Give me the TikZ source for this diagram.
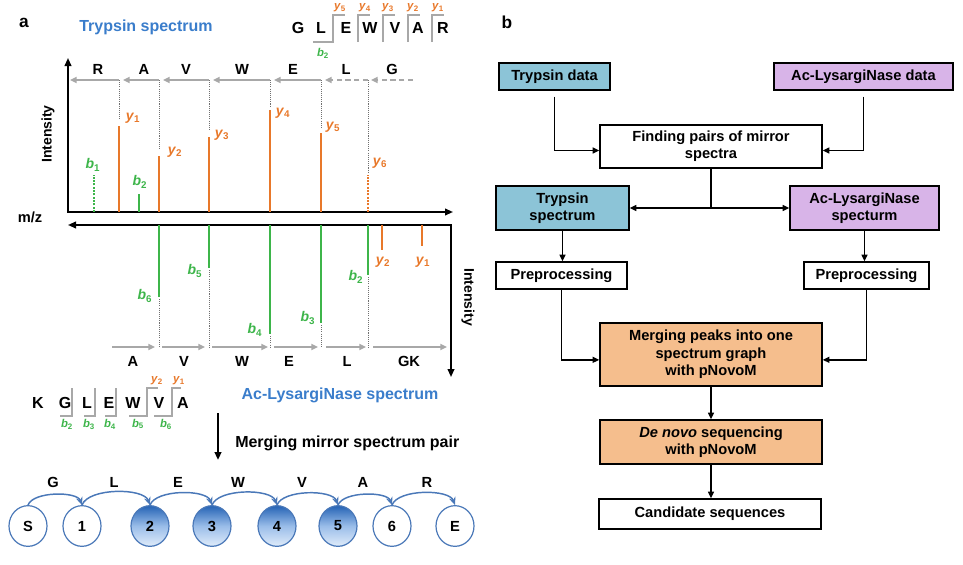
\documentclass[tikz,border=0pt]{standalone}
\usepackage{fontspec}
\setmainfont{Liberation Sans}
\usetikzlibrary{arrows.meta,shapes.geometric}
\definecolor{ora}{HTML}{E8782A}
\definecolor{grn}{HTML}{3DB54A}
\definecolor{gry}{HTML}{A8A8A8}
\definecolor{guidec}{HTML}{707070}
\definecolor{blu}{HTML}{3A7DCB}
\definecolor{tbox}{HTML}{8CC4D7}
\definecolor{pbox}{HTML}{D8B4E8}
\definecolor{obox}{HTML}{F5BE8D}
\definecolor{nblue}{HTML}{4A78B8}
\definecolor{ndark}{HTML}{2563B5}
\definecolor{nmid}{HTML}{9ABDE9}
\definecolor{nlight}{HTML}{E0ECFA}
\newcommand{\ionlab}[2]{\textit{#1}\textsubscript{#2}}
\tikzset{
  axisln/.style={line width=1.3pt, black, >={Triangle[length=6pt,width=5pt]}},
  garrow/.style={gry, line width=1.2pt, -{Triangle[length=5pt,width=4.5pt]}},
  gdash/.style={garrow, dash pattern=on 4pt off 2.5pt},
  guide/.style={guidec, line width=0.6pt, dash pattern=on 0.8pt off 0.8pt},
  opeak/.style={ora, line width=1.5pt},
  gpeak/.style={grn, line width=1.5pt},
  dpeak/.style={dash pattern=on 1.5pt off 1pt},
  oion/.style={text=ora, font=\fontsize{10.5}{11}\selectfont\bfseries},
  gion/.style={text=grn, font=\fontsize{10.5}{11}\selectfont\bfseries},
  soion/.style={text=ora, font=\fontsize{8.5}{9}\selectfont\bfseries},
  sgion/.style={text=grn, font=\fontsize{8.5}{9}\selectfont\bfseries},
  aa/.style={font=\fontsize{11}{12}\selectfont\bfseries},
  seqlet/.style={font=\fontsize{12}{12}\selectfont\bfseries},
  brk/.style={gry, line width=1.3pt},
  gnode/.style={ellipse, draw=nblue, line width=0.9pt, minimum width=28.5pt, minimum height=30.5pt, font=\fontsize{11}{11}\selectfont\bfseries, fill=white},
  gfill/.style={top color=ndark, bottom color=nlight, middle color=nmid},
  garc/.style={nblue, line width=1.1pt, -{Stealth[length=6pt,width=5pt]}, looseness=0.7},
  fbox/.style={draw=black, line width=1.1pt, align=center, font=\fontsize{11}{13}\selectfont\bfseries, inner sep=0pt},
  farrow/.style={line width=1pt, -{Triangle[length=5pt,width=4.5pt]}},
  fline/.style={line width=1pt},
  panel/.style={font=\fontsize{13}{13}\selectfont\bfseries},
  title/.style={text=blu, font=\fontsize{12}{12}\selectfont\bfseries},
}
\begin{document}
\begin{tikzpicture}[x=0.75pt,y=-0.75pt, every node/.style={inner sep=0pt}, font=\bfseries]
\useasboundingbox (0,0) rectangle (963,564);

% ---------- panel a ----------
\node[panel] (pa) at (24,23) {a};
\node[title] (ttry) at (146,27) {Trypsin spectrum};

% top sequence
\foreach \l/\x [count=\i] in {G/298,L/321,E/346,W/370,V/395,A/418,R/443}
  \node[seqlet] (st\i) at (\x,28) {\l};
\draw[brk] (313,42) -- (333,42) -- (333,15) -- (345,15);
\foreach \x in {358,383,408,432} \draw[brk] (\x,42) -- (\x,15) -- (\x+12,15);
\foreach \n/\x [count=\i] in {5/340,4/365,3/388,2/413,1/438}
  \node[soion] (sty\i) at (\x,8) {\ionlab{y}{\n}};
\node[sgion] (stb2) at (323,53) {\ionlab{b}{2}};

% axes
\draw[axisln,<->] (68,58) -- (68,212) -- (453,212);
\draw[axisln,<->] (68,225) -- (451,225) -- (451,377);
\node[font=\fontsize{10.5}{11}\selectfont\bfseries, rotate=90] (int1) at (48,134) {Intensity};
\node[font=\fontsize{10.5}{11}\selectfont\bfseries, rotate=-90] (int2) at (468,297) {Intensity};
\node[font=\fontsize{11}{11}\selectfont\bfseries] (mz) at (30,217) {m/z};

% top amino-acid arrows
\foreach \a/\b in {119/70,159/123,209/163,270/213,321/274} \draw[garrow] (\a,80) -- (\b,80);
\foreach \a/\b in {368/325,413/371} \draw[gdash] (\a,80) -- (\b,80);
\foreach \l/\x [count=\i] in {R/98,A/144,V/186,W/242,E/293,L/346,G/392}
  \node[aa] (ta\i) at (\x,69) {\l};

% top guides and peaks
\foreach \x/\t in {119/119,159/150,209/130,270/107,321/127,368/172}
  \draw[guide] (\x,80) -- (\x,\t);
\foreach \x/\t in {119/126,159/156,209/137,270/110,321/133}
  \draw[opeak] (\x,212) -- (\x,\t);
\draw[opeak,dpeak] (368,212) -- (368,175);
\draw[gpeak] (139,212) -- (139,194);
\draw[gpeak,dpeak] (94,212) -- (94,175);
\node[gion] (tb1) at (93,165) {\ionlab{b}{1}};
\node[gion] (tb2) at (140,182) {\ionlab{b}{2}};
\foreach \n/\x/\y in {1/133/118,2/175/152,3/222/135,4/283/113,5/333/127,6/380/163}
  \node[oion] (ty\n) at (\x,\y) {\ionlab{y}{\n}};

% bottom guides and peaks
\foreach \x/\t in {159/297,209/268,270/334,321/323,368/275}
  {\draw[gpeak] (\x,225) -- (\x,\t);
   \draw[guide] (\x,\t+2) -- (\x,348);}
\draw[opeak] (382,225) -- (382,250);
\draw[opeak] (422,225) -- (422,246);
\foreach \n/\x/\y in {6/145/296,5/195/271,4/255/330,3/308/318,2/356/277}
  \node[gion] (bb\n) at (\x,\y) {\ionlab{b}{\n}};
\node[oion] (by2) at (383,262) {\ionlab{y}{2}};
\node[oion] (by1) at (423,262) {\ionlab{y}{1}};

% bottom amino-acid arrows
\foreach \a/\b in {112/155,162/205,212/268,274/318,326/366,373/447} \draw[garrow] (\a,347) -- (\b,347);
\foreach \l/\x [count=\i] in {A/133,V/184,W/242,E/289,L/347,GK/409}
  \node[aa] (ba\i) at (\x,361) {\l};

\node[title] (tac) at (340,395) {Ac-LysargiNase spectrum};

% bottom sequence
\foreach \l/\x [count=\i] in {K/38,G/65,L/87,E/109,W/133,V/159,A/183}
  \node[seqlet] (sb\i) at (\x,403) {\l};
\foreach \a/\b in {60/72,84/95,105/116} \draw[brk] (\a,416) -- (\b,416) -- (\b,388);
\draw[brk] (129,416) -- (147,416) -- (147,388) -- (158,388);
\draw[brk] (154,416) -- (172,416) -- (172,388) -- (181,388);
\foreach \n/\x in {2/67,3/89,4/110,5/138,6/166}
  \node[sgion] (sbb\n) at (\x,424) {\ionlab{b}{\n}};
\node[soion] (sby2) at (157,381) {\ionlab{y}{2}};
\node[soion] (sby1) at (179,381) {\ionlab{y}{1}};

% merging arrow
\coordinate (ma) at (218,413);
\coordinate (mb) at (218,460);
\draw[line width=1.6pt, -{Triangle[length=6pt,width=5pt]}] (ma) -- (mb);
\node[font=\fontsize{12}{12}\selectfont\bfseries, anchor=west] (mlab) at (235,443) {Merging mirror spectrum pair};

% spectrum graph
\foreach \n/\x/\l in {S/28/S,n1/82/1,n6/392/6,E/455/E}
  \node[gnode] (\n) at (\x,526) {\l};
\foreach \n/\x/\l in {n2/150/2,n3/212/3,n4/277/4,n5/338/5}
  \node[gnode,gfill] (\n) at (\x,526) {\l};
\foreach \a/\b in {S/n1,n1/n2,n2/n3,n3/n4,n4/n5,n5/n6,n6/E}
  \draw[garc] (\a.north) to[out=70,in=110] (\b.north);
\foreach \l/\x [count=\i] in {G/53,L/114,E/178,W/238,V/302,A/363,R/427}
  \node[aa] (ga\i) at (\x,482) {\l};

% ---------- panel b ----------
\node[panel] (pb) at (507,22) {b};
\node[fbox,fill=tbox,minimum width=83.25pt,minimum height=20.25pt] (td) at (554.5,76.5) {Trypsin data};
\node[fbox,fill=pbox,minimum width=134.25pt,minimum height=20.25pt] (ad) at (863.5,76.5) {Ac-LysargiNase data};
\node[fbox,minimum width=166.5pt,minimum height=32.25pt] (fp) at (711,146.5) {Finding pairs of mirror\\spectra};
\node[fbox,fill=tbox,minimum width=99.75pt,minimum height=33pt] (ts) at (562.5,208) {Trypsin\\spectrum};
\node[fbox,fill=pbox,minimum width=111.75pt,minimum height=33pt] (as) at (864.5,208) {Ac-LysargiNase\\specturm};
\node[fbox,minimum width=98.25pt,minimum height=20.25pt] (pl) at (561.5,275.5) {Preprocessing};
\node[fbox,minimum width=93.75pt,minimum height=20.25pt] (pr) at (866.5,275.5) {Preprocessing};
\node[fbox,fill=obox,minimum width=166.5pt,minimum height=47.25pt] (mg) at (711,354.5) {Merging peaks into one\\spectrum graph\\with pNovoM};
\node[fbox,fill=obox,minimum width=166.5pt,minimum height=33pt] (dn) at (711,442) {\textit{De novo} sequencing\\with pNovoM};
\node[fbox,minimum width=166.5pt,minimum height=22.5pt] (cs) at (710,514) {Candidate sequences};

\draw[farrow] ([yshift=-4.5pt]td.south) |- ([yshift=-3pt]fp.west);
\draw[farrow] ([yshift=-4.5pt]ad.south) |- ([yshift=-3pt]fp.east);
\coordinate (br) at (fp.south |- ts.east);
\draw[fline] (fp.south) -- (br);
\draw[farrow] (br) -- (ts.east);
\draw[farrow] (br) -- (as.west);
\draw[farrow] (ts.south) -- (ts.south |- pl.north);
\draw[farrow] (as.south) -- (as.south |- pr.north);
\draw[farrow] (pl.south) |- ([yshift=-4pt]mg.west);
\draw[farrow] (pr.south) |- ([yshift=-4pt]mg.east);
\draw[farrow] (mg.south) -- (dn.north);
\draw[farrow] (dn.south) -- (dn.south |- cs.north);
\end{tikzpicture}
\end{document}
